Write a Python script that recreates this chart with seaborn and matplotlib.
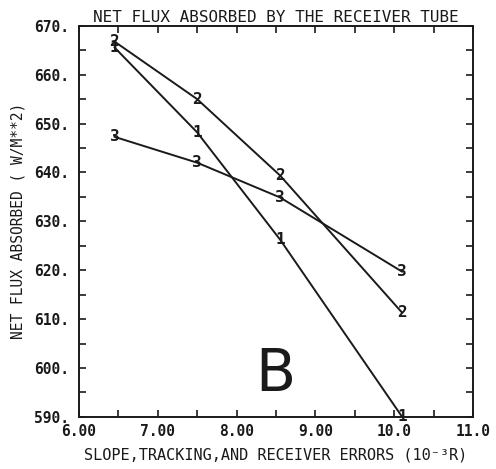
import matplotlib
matplotlib.use("Agg")
import matplotlib.pyplot as plt
from matplotlib.ticker import MultipleLocator, FixedLocator, FixedFormatter
import numpy as np
import pandas as pd
import seaborn as sns

# Error levels (10^-3 rad) at which the tube flux was computed
errors = [6.45, 7.50, 8.55, 10.10]

# Net flux absorbed (W/m^2) for each curve
curve_1 = [665.6, 648.2, 626.3, 590.0]
curve_2 = [666.8, 655.0, 639.4, 611.3]
curve_3 = [647.3, 642.0, 634.9, 619.7]
curve_names = ["1", "2", "3"]

x_ticks = [6.0, 7.0, 8.0, 9.0, 10.0, 11.0]
x_tick_labels = ["6.00", "7.00", "8.00", "9.00", "10.0", "11.0"]
y_ticks = [590, 600, 610, 620, 630, 640, 650, 660, 670]
y_tick_labels = ["590.", "600.", "610.", "620.", "630.", "640.", "650.", "660.", "670."]

rows = []
for name, vals in zip(curve_names, [curve_1, curve_2, curve_3]):
    for x, y in zip(errors, vals):
        rows.append({"error": x, "flux": y, "curve": name})
df = pd.DataFrame(rows)

sns.set_theme(style="ticks")
mono = ["DejaVu Sans Mono", "DejaVu Sans"]
plt.rcParams["font.family"] = mono

ink = "#1a1a1a"
fig = plt.figure(figsize=(4.96, 4.69), dpi=100)
ax = fig.add_axes([0.159, 0.111, 0.795, 0.834])

sns.lineplot(data=df, x="error", y="flux", units="curve", estimator=None,
             color=ink, linewidth=1.4, ax=ax, legend=False, sort=False)

# Curve numbers written on each computed point
for name, vals in zip(curve_names, [curve_1, curve_2, curve_3]):
    for x, y in zip(errors, vals):
        ax.text(x, y, name, ha="center", va="center", fontsize=11.5,
                fontweight="bold", color=ink, family=mono)

ax.set_xlim(6.0, 11.0)
ax.set_ylim(590, 670)
ax.xaxis.set_major_locator(FixedLocator(x_ticks))
ax.xaxis.set_major_formatter(FixedFormatter(x_tick_labels))
ax.xaxis.set_minor_locator(MultipleLocator(0.5))
ax.yaxis.set_major_locator(FixedLocator(y_ticks))
ax.yaxis.set_major_formatter(FixedFormatter(y_tick_labels))
ax.yaxis.set_minor_locator(MultipleLocator(5))

ax.tick_params(axis="both", which="both", direction="in", top=True, right=True,
               length=5, width=1.2, color=ink, labelcolor=ink)
ax.tick_params(axis="x", which="major", labelsize=10.5, pad=5)
ax.tick_params(axis="y", which="major", labelsize=10.5, pad=7)
for lab in ax.get_xticklabels() + ax.get_yticklabels():
    lab.set_fontweight("bold")

for sp in ax.spines.values():
    sp.set_visible(True)
    sp.set_linewidth(1.4)
    sp.set_color(ink)

ax.set_title("NET FLUX ABSORBED BY THE RECEIVER TUBE", fontsize=11.5,
             color=ink, pad=3, family=mono)
ax.set_xlabel("SLOPE,TRACKING,AND RECEIVER ERRORS (10⁻³R)", fontsize=11,
              color=ink, labelpad=6, family=mono)
ax.set_ylabel("NET FLUX ABSORBED ( W/M**2)", fontsize=10.5, color=ink,
              labelpad=6, family=mono)

ax.text(8.49, 598.6, "B", ha="center", va="center", fontsize=42,
        color=ink, family=["Liberation Sans Narrow", "DejaVu Sans"])

fig.savefig("out.png", dpi=100, facecolor="white")
